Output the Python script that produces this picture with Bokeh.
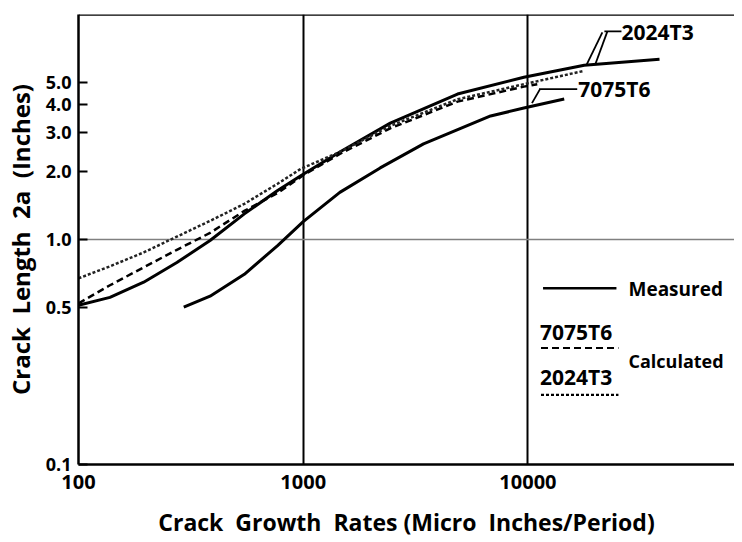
import math
from bokeh.plotting import figure
from bokeh.models import FixedTicker, CustomJSTickFormatter, Span, Label, Range1d
from bokeh.embed import file_html
from bokeh.resources import INLINE

# ---------------- data ----------------
# Measured 2024T3 (upper solid curve)
meas_2024_x = [100, 138, 195, 274, 385, 547, 769, 975, 1455, 2440, 4860, 9590, 17800, 38500]
meas_2024_y = [0.51, 0.553, 0.646, 0.79, 0.99, 1.30, 1.65, 1.92, 2.45, 3.29, 4.43, 5.26, 5.95, 6.32]

# Measured 7075T6 (lower solid curve)
meas_7075_x = [294, 385, 547, 769, 1000, 1455, 2200, 3430, 6820, 9590, 14500]
meas_7075_y = [0.50, 0.56, 0.70, 0.94, 1.20, 1.62, 2.08, 2.66, 3.54, 3.84, 4.21]

# Calculated 7075T6 (dashed)
calc_7075_x = [100, 138, 195, 274, 385, 547, 769, 1000, 1455, 2440, 4860, 9590, 11000]
calc_7075_y = [0.52, 0.626, 0.752, 0.90, 1.07, 1.34, 1.61, 1.93, 2.40, 3.12, 4.10, 4.78, 4.90]

# Calculated 2024T3 (fine dashed)
calc_2024_x = [100, 138, 195, 274, 385, 547, 769, 975, 1455, 2440, 4860, 9590, 17800]
calc_2024_y = [0.672, 0.76, 0.876, 1.03, 1.21, 1.44, 1.77, 2.06, 2.45, 3.20, 4.20, 4.90, 5.62]

x_ticks = [100, 1000, 10000]
y_ticks = [0.1, 0.5, 1.0, 2.0, 3.0, 4.0, 5.0]
x_grid = [1000, 10000]
y_grid = [1.0]

X_START, X_END = 100, 83000
Y_START, Y_END = 0.1, 10

FONT = "Open Sans"
NB = "\u00a0"


# annotation placement: reference-picture pixel -> data (log scales)
def P(px, py):
    return 10 ** (2 + (px - 80) / 223.5), 10 ** ((239 - py) / 226)


p = figure(width=734, height=542, x_axis_type="log", y_axis_type="log",
           x_range=Range1d(X_START, X_END), y_range=Range1d(Y_START, Y_END),
           output_backend="svg", toolbar_location=None,
           min_border_left=76, min_border_right=0,
           min_border_top=14, min_border_bottom=78,
           background_fill_color="white", border_fill_color="white")
p.outline_line_color = None

for ax in (p.xaxis[0], p.yaxis[0]):
    ax.axis_line_width = 2.5
    ax.axis_line_color = "black"
    ax.minor_tick_line_color = None
    ax.major_label_text_font = FONT
    ax.major_label_text_font_style = "bold"
    ax.major_label_text_color = "black"
    ax.axis_label_text_font = FONT
    ax.axis_label_text_font_style = "bold"
    ax.axis_label_text_color = "black"

p.xaxis.ticker = FixedTicker(ticks=x_ticks)
p.xaxis.formatter = CustomJSTickFormatter(code="return tick.toFixed(0)")
p.xaxis.major_tick_in = 0
p.xaxis.major_tick_out = 0
p.xaxis.major_label_text_font_size = "20px"
p.xaxis.major_label_standoff = 10
p.xaxis.axis_label = "Crack" + NB + " Growth" + NB + " Rates (Micro" + NB + " Inches/Period)"
p.xaxis.axis_label_text_font_size = "23px"
p.xaxis.axis_label_standoff = 14

p.yaxis.ticker = FixedTicker(ticks=y_ticks)
p.yaxis.formatter = CustomJSTickFormatter(code="return tick.toFixed(1)")
p.yaxis.major_tick_in = 9
p.yaxis.major_tick_out = 0
p.yaxis.major_tick_line_width = 2
p.yaxis.major_tick_line_color = "black"
p.yaxis.major_label_text_font_size = "18px"
p.yaxis.major_label_standoff = 7
p.yaxis.axis_label = "Crack" + NB + " Length" + NB + " 2a" + NB + " (Inches)"
p.yaxis.axis_label_text_font_size = "24px"
p.yaxis.axis_label_standoff = 6

p.xgrid.ticker = FixedTicker(ticks=x_grid)
p.xgrid.grid_line_color = "black"
p.xgrid.grid_line_width = 2
p.ygrid.ticker = FixedTicker(ticks=y_grid)
p.ygrid.grid_line_color = "#808080"
p.ygrid.grid_line_width = 1.6

p.add_layout(Span(location=Y_END, dimension="width", line_color="black", line_width=2.5))

# curves
p.line(meas_2024_x, meas_2024_y, line_color="black", line_width=3, line_join="round")
p.line(meas_7075_x, meas_7075_y, line_color="black", line_width=3, line_join="round")
p.line(calc_7075_x, calc_7075_y, line_color="black", line_width=2.5, line_dash="7 4")
p.line(calc_2024_x, calc_2024_y, line_color="#222222", line_width=2.5, line_dash="3 2")


def seg(a, b, w=1.8, dash="solid"):
    (x0, y0), (x1, y1) = P(*a), P(*b)
    p.line([x0, x1], [y0, y1], line_color="black", line_width=w, line_dash=dash)


def txt(s, a, size):
    x, y = P(*a)
    p.add_layout(Label(x=x, y=y, text=s, text_font=FONT, text_font_style="bold",
                       text_font_size=size, text_color="black",
                       text_align="left", text_baseline="middle"))


# curve labels with leaders
seg((603, 30), (620, 30))
seg((601, 31), (585, 64))
seg((606, 30), (594, 63))
txt("2024T3", (620, 31), "21px")

seg((538, 88), (576, 88))
seg((539, 88), (531, 102))
txt("7075T6", (577, 88), "21px")

# legend
seg((542, 288), (615, 288), w=2.5)
txt("Measured", (627, 289), "19px")
txt("7075T6", (539, 332), "21px")
seg((540, 348), (617, 348), w=2.2, dash="7 4")
txt("2024T3", (539, 377), "21px")
seg((540, 395), (617, 395), w=2.2, dash="3 2")
txt("Calculated", (627, 361), "18px")

open("out.html", "w").write(file_html(p, INLINE))
